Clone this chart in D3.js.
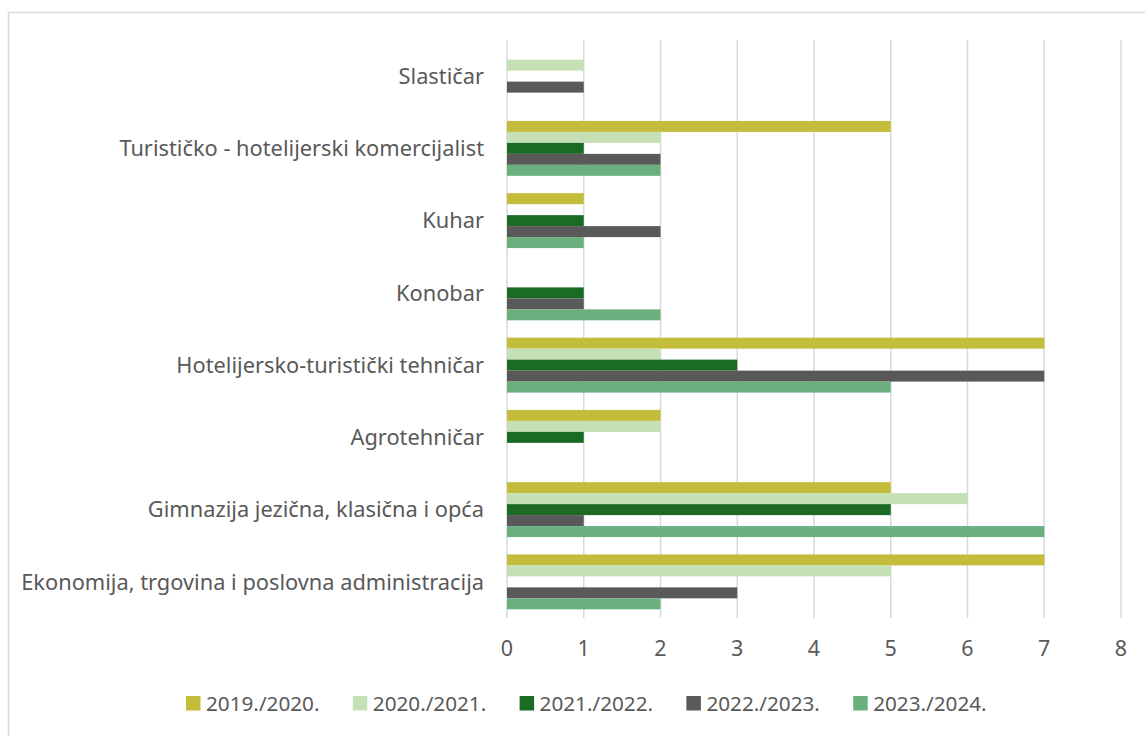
<!DOCTYPE html>
<html>
<head>
<meta charset="utf-8">
<script src="https://cdn.jsdelivr.net/npm/d3@7"></script>
<style>
  body { margin: 0; background: #fff; }
  text { font-family: "Noto Sans", sans-serif; fill: #595959; }
</style>
</head>
<body>
<div id="chart"></div>
<script>
// categories listed top to bottom as drawn
var categories = [
    "Slastičar",
    "Turističko - hotelijerski komercijalist",
    "Kuhar",
    "Konobar",
    "Hotelijersko-turistički tehničar",
    "Agrotehničar",
    "Gimnazija jezična, klasična i opća",
    "Ekonomija, trgovina i poslovna administracija"
];
var seriesNames = ["2019./2020.", "2020./2021.", "2021./2022.", "2022./2023.", "2023./2024."];
var colors = ["#c4bd3b", "#c5e0b4", "#1c6b24", "#595959", "#6baf7f"];

var v2019 = [0, 5, 1, 0, 7, 2, 5, 7];
var v2020 = [1, 2, 0, 0, 2, 2, 6, 5];
var v2021 = [0, 1, 1, 1, 3, 1, 5, 0];
var v2022 = [1, 2, 2, 1, 7, 0, 1, 3];
var v2023 = [0, 2, 1, 2, 5, 0, 7, 2];
var xTicks = [0, 1, 2, 3, 4, 5, 6, 7, 8];

var seriesValues = [v2019, v2020, v2021, v2022, v2023];

var svgWidth = 1145, svgHeight = 736;
var plotLeft = 507, plotRight = 1121, plotTop = 40, plotBottom = 618;

var svg = d3.select("#chart").append("svg")
    .attr("width", svgWidth)
    .attr("height", svgHeight);

// chart frame
svg.append("rect")
    .attr("x", 8.5).attr("y", 12.5)
    .attr("width", 1200).attr("height", 800)
    .attr("fill", "none")
    .attr("stroke", "#d9d9d9")
    .attr("stroke-width", 1.5);

var x = d3.scaleLinear().domain([0, 8]).range([plotLeft, plotRight]);
var y = d3.scaleBand().domain(categories).range([plotTop, plotBottom])
    .paddingInner(0.24).paddingOuter(0.12);
var ySub = d3.scaleBand().domain(d3.range(seriesNames.length))
    .range([0, y.bandwidth()]);

// gridlines
svg.append("g").selectAll("line")
    .data(xTicks)
    .enter().append("line")
    .attr("x1", function(d) { return x(d); })
    .attr("x2", function(d) { return x(d); })
    .attr("y1", plotTop)
    .attr("y2", plotBottom)
    .attr("stroke", "#d9d9d9")
    .attr("stroke-width", 1.5);

// bars
var groups = svg.append("g").selectAll("g")
    .data(categories)
    .enter().append("g")
    .attr("transform", function(d) { return "translate(0," + y(d) + ")"; });

groups.selectAll("rect")
    .data(function(d, i) {
        return seriesValues
            .map(function(vals, s) { return { s: s, v: vals[i] }; })
            .filter(function(b) { return b.v > 0; });
    })
    .enter().append("rect")
    .attr("x", x(0))
    .attr("y", function(d) { return ySub(d.s); })
    .attr("width", function(d) { return x(d.v) - x(0); })
    .attr("height", ySub.bandwidth())
    .attr("fill", function(d) { return colors[d.s]; });

// category labels
svg.append("g").selectAll("text")
    .data(categories)
    .enter().append("text")
    .attr("x", plotLeft - 23)
    .attr("y", function(d) { return y(d) + y.bandwidth() / 2; })
    .attr("dy", "0.35em")
    .attr("text-anchor", "end")
    .style("font-size", "21.8px")
    .text(function(d) { return d; });

// x tick labels
svg.append("g").selectAll("text")
    .data(xTicks)
    .enter().append("text")
    .attr("x", function(d) { return x(d); })
    .attr("y", 656)
    .attr("text-anchor", "middle")
    .style("font-size", "21.5px")
    .text(function(d) { return d; });

// legend
var legend = svg.append("g").selectAll("g")
    .data(seriesNames)
    .enter().append("g")
    .attr("transform", function(d, i) { return "translate(" + (186 + i * 166.8) + ",696)"; });

legend.append("rect")
    .attr("width", 14.5).attr("height", 14.5)
    .attr("fill", function(d, i) { return colors[i]; });

legend.append("text")
    .attr("x", 20)
    .attr("y", 14.7)
    .style("font-size", "20.7px")
    .text(function(d) { return d; });
</script>
</body>
</html>
